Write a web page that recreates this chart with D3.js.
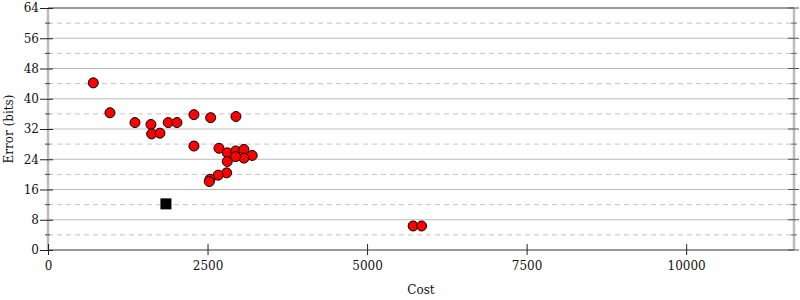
<!DOCTYPE html>
<html>
<head>
<meta charset="utf-8">
<script src="https://cdn.jsdelivr.net/npm/d3@7"></script>
<style>
  body { margin: 0; background: #fff; }
  svg { display: block; font-family: "DejaVu Serif", serif; }
</style>
</head>
<body>
<div id="chart"></div>
<script>
// Cost / error scatter
const costs = [710, 971, 1363, 1613, 1624, 1754, 1884, 2021, 2287, 2287,
               2549, 2945, 2679, 2809, 2940, 3070, 3200, 3070, 2940, 2809,
               2799, 2668, 2538, 2527, 5722, 5854];
const errors = [44.2, 36.3, 33.7, 33.2, 30.7, 30.9, 33.7, 33.7, 35.8, 27.5,
                35.0, 35.3, 26.9, 25.7, 26.2, 26.6, 25.0, 24.3, 24.7, 23.4,
                20.4, 19.8, 18.7, 18.1, 6.35, 6.35];
const bestCost = [1848];
const bestError = [12.2];

const xTicks = [0, 2500, 5000, 7500, 10000];
const yMajor = [0, 8, 16, 24, 32, 40, 48, 56, 64];
const yMinor = [4, 12, 20, 28, 36, 44, 52, 60];
const xMax = 11690;

const width = 800, height = 300;
const plotLeft = 48, plotRight = 794, plotTop = 8, plotBottom = 250;

const svg = d3.select('#chart').append('svg')
    .attr('width', width)
    .attr('height', height);

const x = d3.scaleLinear().domain([0, xMax]).range([plotLeft, plotRight]);
const y = d3.scaleLinear().domain([0, 64]).range([plotBottom, plotTop]);

// gridlines
svg.append('g').selectAll('line')
    .data(yMinor)
    .join('line')
    .attr('x1', plotLeft).attr('x2', plotRight)
    .attr('y1', d => y(d)).attr('y2', d => y(d))
    .attr('stroke', '#c4c4c4')
    .attr('stroke-dasharray', '5,4');

svg.append('g').selectAll('line')
    .data(yMajor.filter(d => d > 0 && d < 64))
    .join('line')
    .attr('x1', plotLeft).attr('x2', plotRight)
    .attr('y1', d => y(d)).attr('y2', d => y(d))
    .attr('stroke', d => d === 32 ? '#dedede' : '#bbb')
    .attr('stroke-width', d => d === 32 ? 2 : 1);

// frame lines
svg.append('line')
    .attr('x1', plotLeft).attr('x2', plotRight)
    .attr('y1', y(64)).attr('y2', y(64))
    .attr('stroke', '#999').attr('stroke-width', 2);
svg.append('line')
    .attr('x1', x(0)).attr('x2', x(0))
    .attr('y1', plotTop).attr('y2', plotBottom)
    .attr('stroke', '#bbb').attr('stroke-width', 2.5);
svg.append('line')
    .attr('x1', plotRight).attr('x2', plotRight)
    .attr('y1', plotTop).attr('y2', plotBottom)
    .attr('stroke', '#bbb').attr('stroke-width', 2.5);
svg.append('line')
    .attr('x1', plotLeft).attr('x2', plotRight)
    .attr('y1', plotBottom).attr('y2', plotBottom)
    .attr('stroke', '#999').attr('stroke-width', 2);

// left axis
const yAxis = d3.axisLeft(y).tickValues(yMajor).tickSize(8).tickPadding(3);
const gy = svg.append('g')
    .attr('transform', `translate(${plotLeft},0)`)
    .call(yAxis);
gy.select('.domain').remove();
gy.selectAll('.tick line').attr('x2', 5).attr('x1', -8).attr('stroke', '#222');
gy.selectAll('.tick text')
    .attr('font-family', '"DejaVu Serif", serif')
    .attr('font-size', 12)
    .attr('fill', '#111')
    .attr('x', -9);

svg.append('g').selectAll('line')
    .data(yMinor)
    .join('line')
    .attr('x1', plotLeft - 3).attr('x2', plotLeft + 2)
    .attr('y1', d => y(d)).attr('y2', d => y(d))
    .attr('stroke', '#444');

// right axis ticks
svg.append('g').selectAll('line')
    .data(yMajor)
    .join('line')
    .attr('x1', plotRight - 6).attr('x2', plotRight + 5)
    .attr('y1', d => y(d)).attr('y2', d => y(d))
    .attr('stroke', '#555');
svg.append('g').selectAll('line')
    .data(yMinor)
    .join('line')
    .attr('x1', plotRight - 3).attr('x2', plotRight + 3)
    .attr('y1', d => y(d)).attr('y2', d => y(d))
    .attr('stroke', '#666');

// bottom axis
const xAxis = d3.axisBottom(x).tickValues(xTicks).tickSize(5).tickPadding(6)
    .tickFormat(d3.format('d'));
const gx = svg.append('g')
    .attr('transform', `translate(0,${plotBottom})`)
    .call(xAxis);
gx.select('.domain').remove();
gx.selectAll('.tick line').attr('y1', -6).attr('y2', 5).attr('stroke', '#222');
gx.selectAll('.tick text')
    .attr('font-family', '"DejaVu Serif", serif')
    .attr('font-size', 12)
    .attr('fill', '#111');

// axis titles
svg.append('text')
    .attr('x', (plotLeft + plotRight) / 2)
    .attr('y', 294)
    .attr('text-anchor', 'middle')
    .attr('font-size', 12)
    .attr('fill', '#111')
    .text('Cost');

svg.append('text')
    .attr('transform', `translate(13,${(plotTop + plotBottom) / 2}) rotate(-90)`)
    .attr('text-anchor', 'middle')
    .attr('font-size', 12)
    .attr('fill', '#111')
    .text('Error (bits)');

// points
const points = costs.map((c, i) => ({ cost: c, error: errors[i] }));
svg.append('g').selectAll('circle')
    .data(points)
    .join('circle')
    .attr('cx', d => x(d.cost))
    .attr('cy', d => y(d.error))
    .attr('r', 5)
    .attr('fill', '#f00')
    .attr('stroke', '#000')
    .attr('stroke-width', 1);

const best = bestCost.map((c, i) => ({ cost: c, error: bestError[i] }));
svg.append('g').selectAll('rect')
    .data(best)
    .join('rect')
    .attr('x', d => x(d.cost) - 5.5)
    .attr('y', d => y(d.error) - 5.5)
    .attr('width', 11)
    .attr('height', 11)
    .attr('fill', '#000');
</script>
</body>
</html>
